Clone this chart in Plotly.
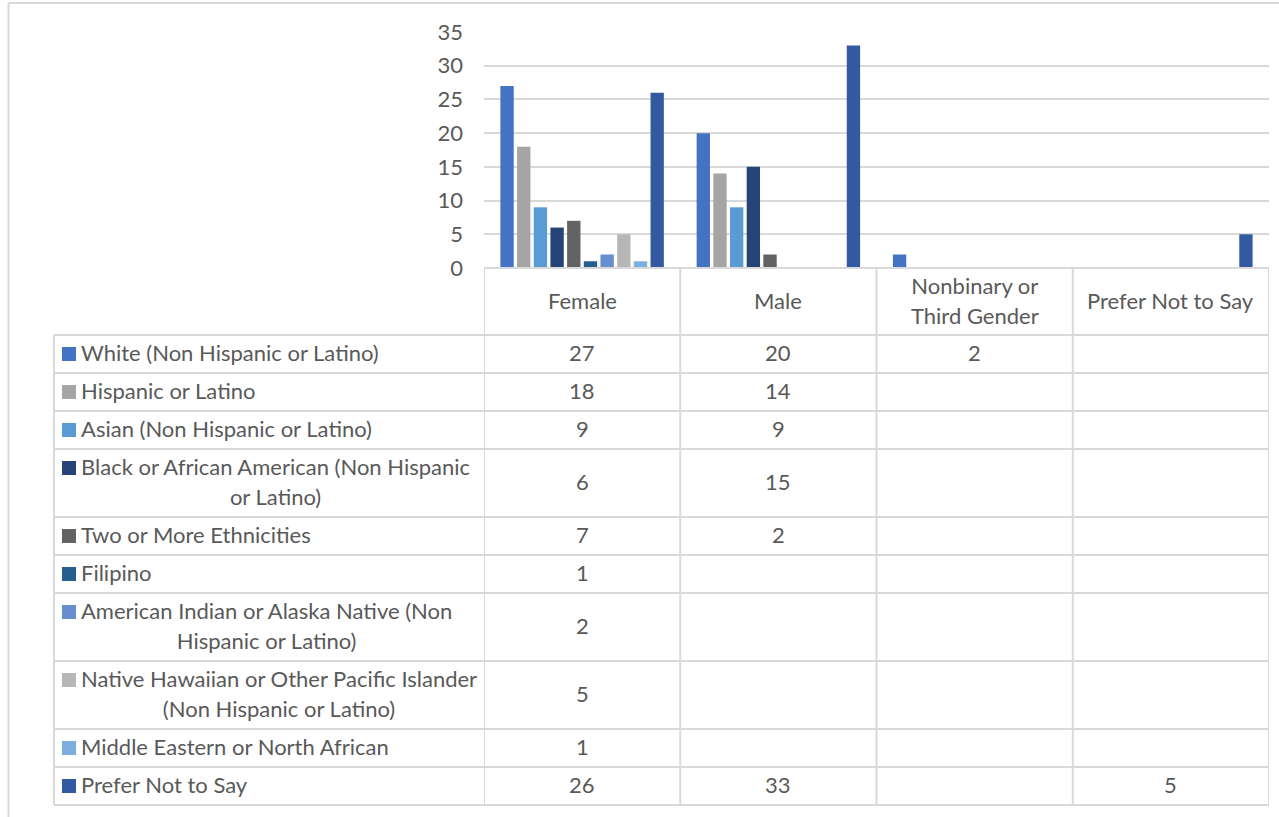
import plotly.graph_objects as go

# ---------------- data ----------------
categories = ["Female", "Male", "Nonbinary or Third Gender", "Prefer Not to Say"]
header_labels = ["Female", "Male", "Nonbinary or<br>Third Gender", "Prefer Not to Say"]

series_names = [
    "White (Non Hispanic or Latino)",
    "Hispanic or Latino",
    "Asian (Non Hispanic or Latino)",
    "Black or African American (Non Hispanic or Latino)",
    "Two or More Ethnicities",
    "Filipino",
    "American Indian or Alaska Native (Non Hispanic or Latino)",
    "Native Hawaiian or Other Pacific Islander (Non Hispanic or Latino)",
    "Middle Eastern or North African",
    "Prefer Not to Say",
]
series_labels = [
    "White (Non Hispanic or Latino)",
    "Hispanic or Latino",
    "Asian (Non Hispanic or Latino)",
    "Black or African American (Non Hispanic<br>or Latino)",
    "Two or More Ethnicities",
    "Filipino",
    "American Indian or Alaska Native (Non<br>Hispanic or Latino)",
    "Native Hawaiian or Other Pacific Islander<br>(Non Hispanic or Latino)",
    "Middle Eastern or North African",
    "Prefer Not to Say",
]

white = [27, 20, 2, None]
hispanic = [18, 14, None, None]
asian = [9, 9, None, None]
black = [6, 15, None, None]
two_or_more = [7, 2, None, None]
filipino = [1, None, None, None]
american_indian = [2, None, None, None]
native_hawaiian = [5, None, None, None]
middle_eastern = [1, None, None, None]
prefer_not = [26, 33, None, 5]

series_values = [white, hispanic, asian, black, two_or_more, filipino,
                 american_indian, native_hawaiian, middle_eastern, prefer_not]

colors = ["#4472C4", "#A5A5A5", "#5B9BD5", "#264478", "#636363",
          "#255E91", "#698ED0", "#B7B7B7", "#7CAFDD", "#335AA1"]

y_ticks = [0, 5, 10, 15, 20, 25, 30, 35]

# ---------------- layout helpers ----------------
W, H = 1279, 817
def px(x):
    return x / W
def py(y):
    return 1 - y / H

TEXT = "#595959"
GRID = "#D9D9D9"
FONT = "Lato"
FS = 22

plot_left, plot_right = 484, 1269
plot_top, plot_bottom = 32, 268
table_left = 54
header_h = 67
line_h = 30
single_h = 38
text_shift = -1.5

fig = go.Figure()
for name, vals, col in zip(series_names, series_values, colors):
    fig.add_trace(go.Bar(x=categories, y=vals, name=name,
                         marker=dict(color=col, line=dict(width=0)),
                         showlegend=False, hoverinfo="x+y+name"))

shapes = []
annotations = []

def hline(y, x0, x1, xref="paper"):
    shapes.append(dict(type="line", xref=xref, yref="paper",
                       x0=x0, x1=x1, y0=py(y), y1=py(y),
                       line=dict(color=GRID, width=2), layer="above"))

def vline(x, y0, y1, xref="paper"):
    shapes.append(dict(type="line", xref=xref, yref="paper",
                       x0=x, x1=x, y0=py(y0), y1=py(y1),
                       line=dict(color=GRID, width=2), layer="above"))

def styled(text, size=FS):
    return "<br>".join(f"<span style='font-size:{size}px'>{t}</span>" for t in text.split("<br>"))

# outer chart border (top & left)
shapes.append(dict(type="line", xref="paper", yref="paper", x0=px(8.5), x1=1.0,
                   y0=py(3), y1=py(3), line=dict(color=GRID, width=2)))
shapes.append(dict(type="line", xref="paper", yref="paper", x0=px(8.5), x1=px(8.5),
                   y0=py(3), y1=0, line=dict(color=GRID, width=2)))

# row boundaries
row_tops = []
y = plot_bottom + header_h
for lab in series_labels:
    n = lab.count("<br>") + 1
    h = single_h + line_h * (n - 1)
    row_tops.append((y, h, n))
    y += h
table_bottom = y

# horizontal lines
hline(plot_bottom, -0.5, len(categories) - 0.5, xref="x")
for (top, h, n) in row_tops:
    hline(top, px(table_left), px(plot_right))
hline(table_bottom, px(table_left), px(plot_right))

# vertical lines
vline(px(table_left), plot_bottom + header_h, table_bottom)
for i in range(len(categories) + 1):
    vline(i - 0.5, plot_bottom, table_bottom, xref="x")

# header labels
for i, lab in enumerate(header_labels):
    annotations.append(dict(xref="x", yref="paper", x=i,
                            y=py(plot_bottom + header_h / 2 + text_shift),
                            text=styled(lab), showarrow=False, align="center",
                            xanchor="center", yanchor="middle",
                            font=dict(family=FONT, size=23, color=TEXT)))

# row labels, keys and values
for (top, h, n), lab, col, vals in zip(row_tops, series_labels, colors, series_values):
    first_c = top + single_h / 2
    shapes.append(dict(type="rect", xref="paper", yref="paper",
                       x0=px(62), x1=px(76), y0=py(first_c - 7), y1=py(first_c + 7),
                       fillcolor=col, line=dict(width=0)))
    annotations.append(dict(xref="paper", yref="paper", x=px(79),
                            y=py(top + h / 2 + text_shift),
                            text=styled(lab), showarrow=False, align="center",
                            xanchor="left", yanchor="middle",
                            font=dict(family=FONT, size=23, color=TEXT)))
    for i, v in enumerate(vals):
        if v is not None:
            annotations.append(dict(xref="x", yref="paper", x=i,
                                    y=py(top + h / 2 + text_shift),
                                    text=str(v), showarrow=False,
                                    xanchor="center", yanchor="middle",
                                    font=dict(family=FONT, size=FS, color=TEXT)))

fig.update_layout(
    autosize=True,
    margin=dict(l=0, r=0, t=0, b=0, pad=0, autoexpand=False),
    paper_bgcolor="white", plot_bgcolor="white",
    barmode="group", bargap=0.15, bargroupgap=0.2,
    font=dict(family=FONT, size=FS, color=TEXT),
    xaxis=dict(domain=[px(plot_left), px(plot_right)], range=[-0.5, len(categories) - 0.5],
               showticklabels=False, showgrid=False, zeroline=False, showline=False,
               fixedrange=True, automargin=False),
    yaxis=dict(domain=[py(plot_bottom), py(plot_top)], range=[0, 35],
               tickmode="array", tickvals=y_ticks, ticktext=[str(t) for t in y_ticks],
               showgrid=True, gridcolor=GRID, gridwidth=2, zeroline=False, showline=False,
               tickfont=dict(family=FONT, size=FS, color=TEXT),
               ticks="", ticklabelstandoff=20, fixedrange=True, automargin=False),
    shapes=shapes,
    annotations=annotations,
)

fig.write_html("out.html",
               default_width="100vw", default_height="100vh",
               config=dict(displayModeBar=False, responsive=True),
               post_script="document.body.style.margin='0';document.body.style.overflow='hidden';"
                           "Plotly.Plots.resize(document.getElementById('{plot_id}'));")
